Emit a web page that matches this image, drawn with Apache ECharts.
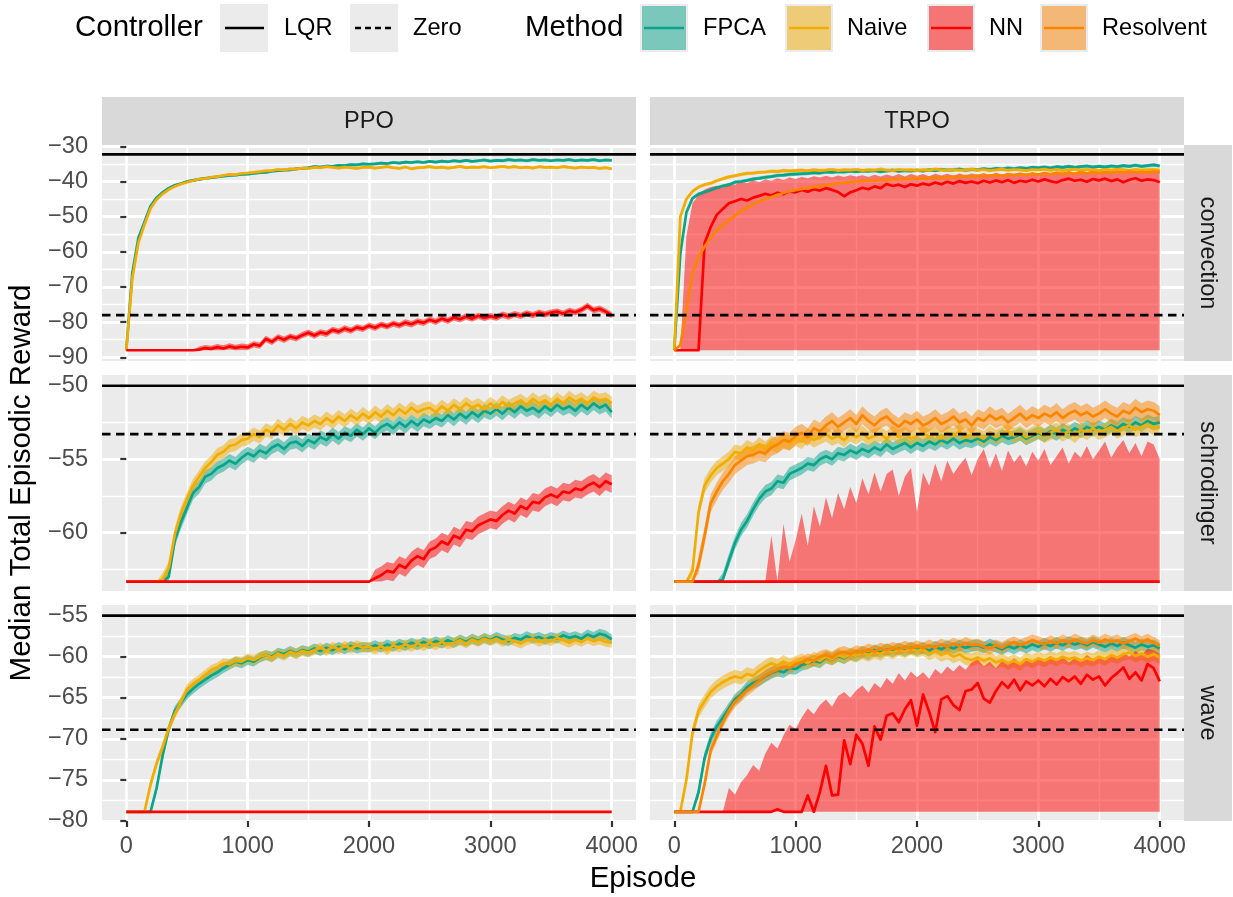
<!DOCTYPE html>
<html>
<head>
<meta charset="utf-8">
<title>Median Total Episodic Reward</title>
<script src="https://cdn.jsdelivr.net/npm/echarts@6.0.0/dist/echarts.min.js"></script>
<style>
  html, body { margin: 0; padding: 0; background: #fff; }
  #chart { width: 1233px; height: 897px; }
</style>
</head>
<body>
<div id="chart"></div>
<script>
// episodes shared by every curve
const episodes = [
  0, 50, 100, 150, 200, 250, 300, 350, 400, 450,
  500, 550, 600, 650, 700, 750, 800, 850, 900, 950,
  1000, 1050, 1100, 1150, 1200, 1250, 1300, 1350, 1400, 1450,
  1500, 1550, 1600, 1650, 1700, 1750, 1800, 1850, 1900, 1950,
  2000, 2050, 2100, 2150, 2200, 2250, 2300, 2350, 2400, 2450,
  2500, 2550, 2600, 2650, 2700, 2750, 2800, 2850, 2900, 2950,
  3000, 3050, 3100, 3150, 3200, 3250, 3300, 3350, 3400, 3450,
  3500, 3550, 3600, 3650, 3700, 3750, 3800, 3850, 3900, 3950,
  4000
];

const xTicks = [0, 1000, 2000, 3000, 4000];
const yTicksConvection = [-90, -80, -70, -60, -50, -40, -30];
const yTicksSchrodinger = [-60, -55, -50];
const yTicksWave = [-80, -75, -70, -65, -60, -55];

const algorithms = ['PPO', 'TRPO'];
const environments = ['convection', 'schrodinger', 'wave'];

// controller reference levels per environment
const lqrValues = [-32.3, -50.0, -55.0];
const zeroValues = [-78.0, -53.3, -68.9];
// reward of the untrained start per environment
const convFloor = -88.0;
const schFloor = -63.33;
const waveFloor = -78.9;

// ---- convection ----
const ppoConvFpca = [
  -88.0, -66.0, -56.0, -51.5, -47.0, -44.6, -43.1, -41.9, -41.1, -40.6,
  -40.0, -39.7, -39.4, -39.1, -38.9, -38.7, -38.5, -38.3, -38.2, -38.0,
  -37.9, -37.7, -37.5, -37.4, -37.1, -36.9, -36.8, -36.7, -36.4, -36.3,
  -36.1, -35.8, -35.9, -35.6, -35.7, -35.4, -35.5, -35.2, -35.3, -35.0,
  -35.1, -35.0, -34.8, -34.9, -34.6, -34.8, -34.5, -34.6, -34.4, -34.6,
  -34.3, -34.5, -34.2, -34.4, -34.1, -34.3, -34.0, -34.3, -34.1, -33.9,
  -34.2, -34.0, -34.1, -33.8, -34.0, -33.9, -34.1, -33.8, -34.0, -33.9,
  -34.1, -33.9, -34.0, -33.8, -34.1, -33.9, -34.0, -33.8, -34.1, -33.9,
  -34.0
];
const ppoConvNaive = [
  -88.0, -67.5, -57.4, -52.3, -47.7, -45.1, -43.5, -42.3, -41.4, -40.7,
  -40.2, -39.8, -39.3, -39.2, -38.8, -38.6, -38.3, -38.0, -38.1, -37.7,
  -37.6, -37.4, -37.2, -37.0, -36.9, -36.6, -36.7, -36.4, -36.5, -36.2,
  -36.3, -36.0, -36.1, -35.8, -36.0, -36.2, -35.9, -36.1, -36.3, -36.0,
  -35.9, -36.2, -36.0, -35.8, -36.1, -36.3, -35.9, -36.4, -36.1, -36.0,
  -35.8, -36.1, -35.9, -36.2, -36.0, -35.7, -36.1, -35.9, -36.0, -35.8,
  -36.1, -35.9, -35.7, -36.0, -35.8, -36.1, -35.9, -36.2, -35.8, -36.0,
  -35.9, -36.1, -35.8, -36.0, -36.2, -35.9, -36.1, -36.0, -36.3, -36.1,
  -36.4
];
const ppoConvNn = [
  -88.0, -88.0, -88.0, -88.0, -88.0, -88.0, -88.0, -88.0, -88.0, -88.0,
  -88.0, -88.0, -87.8, -87.4, -87.6, -87.1, -87.5, -86.9, -87.3, -87.0,
  -87.2, -86.3, -86.7, -84.8, -85.6, -84.3, -85.0, -84.1, -84.6, -83.7,
  -83.0, -83.8, -82.9, -83.3, -82.2, -82.7, -81.8, -82.4, -81.5, -81.9,
  -81.0, -81.6, -80.7, -81.2, -80.4, -80.9, -80.1, -80.6, -79.8, -80.2,
  -79.3, -79.9, -79.0, -79.6, -78.7, -79.2, -78.4, -79.0, -78.2, -78.8,
  -78.3, -78.7, -77.9, -78.4, -77.7, -78.2, -77.5, -78.0, -77.3, -77.8,
  -77.3, -77.0, -77.6, -76.8, -77.2, -76.5, -75.4, -76.6, -76.2, -77.0,
  -78.0
];
const trpoConvFpca = [
  -88.0, -60.5, -48.8, -44.8, -43.6, -43.0, -42.4, -41.8, -41.3, -40.9,
  -40.2, -40.0, -39.7, -39.3, -39.1, -38.8, -38.6, -38.3, -38.2, -38.0,
  -37.9, -37.8, -37.7, -37.5, -37.6, -37.3, -37.4, -37.2, -37.3, -37.1,
  -37.2, -37.0, -37.1, -36.9, -37.2, -37.0, -36.8, -37.1, -36.9, -37.0,
  -36.8, -37.0, -36.7, -36.9, -36.6, -36.8, -36.7, -36.5, -36.8, -36.6,
  -36.7, -36.4, -36.6, -36.3, -36.5, -36.2, -36.4, -36.1, -36.3, -36.0,
  -36.1, -35.9, -36.2, -35.8, -36.0, -35.7, -36.0, -35.8, -35.6, -35.9,
  -35.7, -35.9, -35.6, -35.8, -35.5, -35.7, -35.4, -35.7, -35.5, -35.3,
  -35.6
];
const trpoConvNaive = [
  -88.0, -50.0, -45.0, -42.8, -41.6, -40.9, -40.5, -39.8, -39.2, -38.7,
  -38.4, -38.0, -37.7, -37.6, -37.4, -37.3, -37.1, -37.2, -36.9, -37.0,
  -36.9, -36.8, -37.0, -36.7, -36.9, -36.8, -36.6, -36.9, -36.7, -36.8,
  -36.6, -36.9, -36.7, -36.8, -36.5, -36.8, -36.9, -36.6, -36.8, -36.7,
  -36.9, -36.7, -36.8, -36.5, -36.7, -36.9, -36.6, -36.8, -36.7, -36.5,
  -36.8, -36.6, -36.9, -36.7, -36.5, -36.8, -36.6, -36.7, -36.9, -36.6,
  -36.7, -36.5, -36.8, -36.6, -36.9, -36.7, -36.5, -36.8, -36.6, -36.7,
  -36.9, -36.6, -36.8, -36.5, -36.7, -36.9, -36.6, -36.8, -36.7, -36.6,
  -36.8
];
const trpoConvNn = [
  -88.0, -88.0, -88.0, -88.0, -88.0, -57.5, -53.0, -49.5, -47.8, -46.2,
  -45.6, -45.0, -45.4, -44.6, -44.1, -43.5, -44.0, -43.2, -43.6, -42.8,
  -43.1, -42.4, -42.9, -42.2, -42.6, -41.9, -42.4, -43.0, -44.2, -43.1,
  -42.5, -41.8, -42.2, -41.4, -41.9, -40.7, -41.3, -40.9, -41.6, -40.8,
  -41.2, -40.6, -41.0, -40.3, -40.8, -40.1, -40.6, -39.9, -40.4, -40.0,
  -40.5, -39.8, -40.3, -39.7, -40.2, -39.6, -40.4, -39.8, -40.1, -39.5,
  -40.0, -39.4, -39.9, -40.3, -39.6, -39.2, -39.8, -39.5, -40.1, -39.3,
  -39.7, -39.2, -39.9, -39.4, -40.2, -39.5, -39.1, -39.8, -39.4, -39.6,
  -40.2
];
const trpoConvNnHi = [
  -88.0, -88.0, -55.5, -46.2, -43.8, -42.3, -41.6, -41.2, -41.8, -40.6,
  -40.9, -40.1, -40.5, -39.6, -40.2, -39.4, -39.8, -39.1, -39.6, -38.9,
  -39.3, -38.7, -39.1, -38.5, -38.9, -38.4, -38.9, -38.3, -38.7, -38.2,
  -38.6, -38.2, -38.7, -38.1, -38.6, -38.0, -38.5, -37.9, -38.6, -37.9,
  -38.4, -37.9, -38.5, -37.8, -38.3, -37.8, -38.4, -37.7, -38.2, -37.7,
  -38.1, -37.6, -38.2, -37.5, -38.0, -37.5, -37.9, -37.4, -37.9, -37.3,
  -37.8, -37.2, -37.7, -37.1, -37.6, -37.0, -37.5, -36.9, -37.4, -36.8,
  -37.3, -36.7, -37.2, -36.8, -37.1, -36.6, -37.0, -36.7, -37.1, -36.8,
  -37.2
];
const trpoConvRes = [
  -88.0, -86.5, -76.5, -66.0, -61.5, -58.5, -56.0, -54.0, -52.4, -51.0,
  -49.6, -48.5, -47.4, -46.5, -45.6, -45.0, -44.4, -43.8, -43.3, -42.8,
  -42.5, -42.1, -41.8, -41.6, -41.3, -41.0, -40.9, -40.5, -40.4, -40.2,
  -40.0, -39.9, -39.7, -39.8, -39.5, -39.6, -39.3, -39.4, -39.2, -39.3,
  -39.1, -39.2, -38.9, -39.0, -38.8, -38.9, -38.6, -38.7, -38.5, -38.6,
  -38.4, -38.5, -38.3, -38.2, -38.4, -38.1, -38.2, -38.0, -38.1, -37.9,
  -38.0, -37.8, -37.9, -37.7, -37.8, -37.6, -37.8, -37.5, -37.7, -37.5,
  -37.6, -37.4, -37.6, -37.3, -37.5, -37.2, -37.4, -37.3, -37.5, -37.2,
  -37.3
];

// ---- schrodinger ----
const ppoSchFpca = [
  -63.33, -63.33, -63.33, -63.33, -63.33, -63.33, -63.33, -63.0, -60.5, -59.3,
  -58.3, -57.3, -56.9, -56.2, -56.0, -55.6, -55.4, -55.1, -55.3, -54.9,
  -54.6, -54.8, -54.4, -54.6, -54.2, -54.0, -54.3, -53.9, -53.8, -54.1,
  -53.7, -53.9, -53.5, -53.7, -53.3, -53.6, -53.2, -53.4, -53.0, -53.3,
  -52.9, -53.2, -52.8, -52.6, -52.9, -52.5, -52.8, -52.4, -52.7, -52.3,
  -52.5, -52.2, -52.4, -52.0, -52.3, -51.9, -52.2, -51.8, -52.1, -51.7,
  -51.9, -51.6, -51.9, -51.5, -51.8, -51.4, -51.7, -51.5, -51.8, -51.4,
  -51.7, -51.3, -51.6, -51.4, -51.7, -51.3, -51.6, -51.2, -51.5, -51.3,
  -51.8
];
const ppoSchNaive = [
  -63.33, -63.33, -63.33, -63.33, -63.33, -63.33, -63.2, -62.4, -60.1, -58.7,
  -57.7, -56.8, -56.2, -55.6, -55.2, -54.7, -54.5, -54.1, -54.0, -53.7,
  -53.6, -53.3, -53.5, -53.0, -53.2, -52.7, -53.0, -52.6, -52.9, -52.5,
  -52.7, -52.4, -52.6, -52.2, -52.5, -52.1, -52.4, -52.0, -52.3, -51.9,
  -52.2, -51.8, -52.1, -51.7, -52.0, -51.6, -51.9, -51.5, -51.8, -51.6,
  -51.5, -51.8, -51.4, -51.7, -51.3, -51.6, -51.2, -51.5, -51.3, -51.6,
  -51.2, -51.5, -51.1, -51.4, -51.2, -51.0, -51.3, -50.9, -51.2, -51.0,
  -51.3, -50.9, -51.2, -50.8, -51.1, -50.9, -51.2, -50.8, -51.0, -50.9,
  -51.2
];
const ppoSchNn = [
  -63.33, -63.33, -63.33, -63.33, -63.33, -63.33, -63.33, -63.33, -63.33, -63.33,
  -63.33, -63.33, -63.33, -63.33, -63.33, -63.33, -63.33, -63.33, -63.33, -63.33,
  -63.33, -63.33, -63.33, -63.33, -63.33, -63.33, -63.33, -63.33, -63.33, -63.33,
  -63.33, -63.33, -63.33, -63.33, -63.33, -63.33, -63.33, -63.33, -63.33, -63.33,
  -63.33, -63.1, -62.9, -62.6, -62.7, -62.2, -62.4, -61.9, -61.6, -61.8,
  -61.2, -61.0, -60.6, -60.8, -60.2, -60.4, -59.8, -59.9, -59.5, -59.3,
  -59.1, -59.2, -58.8, -58.5, -58.7, -58.2, -58.4, -57.9, -58.0, -57.6,
  -57.4, -57.6, -57.2, -57.3, -57.0, -57.1, -56.8, -56.6, -56.9, -56.5,
  -56.7
];
const trpoSchFpca = [
  -63.33, -63.33, -63.33, -63.33, -63.33, -63.33, -63.33, -63.33, -63.2, -61.9,
  -60.7, -59.8, -59.2, -58.4, -57.7, -57.2, -57.0, -56.5, -56.6, -56.0,
  -55.8, -55.6, -55.3, -55.4, -55.0, -54.8, -55.0, -54.6, -54.7, -54.4,
  -54.6, -54.3, -54.5, -54.2, -54.4, -54.0, -54.3, -54.1, -53.9, -54.2,
  -53.9, -54.1, -53.8, -54.0, -53.7, -53.9, -53.6, -53.9, -53.7, -53.8,
  -53.6, -53.8, -53.5, -53.7, -53.4, -53.6, -53.5, -53.3, -53.6, -53.4,
  -53.2, -53.4, -53.1, -53.3, -53.0, -53.2, -52.9, -53.1, -52.8, -53.0,
  -52.8, -53.0, -52.7, -52.9, -52.6, -52.8, -52.5, -52.7, -52.4, -52.6,
  -52.5
];
const trpoSchNaive = [
  -63.33, -63.33, -63.33, -62.6, -58.6, -56.8, -56.1, -55.6, -55.3, -55.0,
  -54.5, -54.6, -54.2, -54.4, -54.0, -54.3, -53.9, -54.1, -53.7, -53.9,
  -53.6, -53.8, -53.4, -53.7, -53.5, -53.3, -53.6, -53.4, -53.7, -53.3,
  -53.5, -53.2, -53.6, -53.4, -53.3, -53.6, -53.2, -53.5, -53.3, -53.6,
  -53.4, -53.2, -53.5, -53.3, -53.6, -53.2, -53.4, -53.1, -53.5, -53.3,
  -53.4, -53.6, -53.2, -53.5, -53.3, -53.1, -53.4, -53.2, -53.5, -53.3,
  -53.1, -53.4, -53.2, -53.0, -53.3, -53.1, -53.4, -53.0, -53.2, -52.9,
  -53.2, -53.0, -52.8, -53.1, -52.9, -52.7, -53.0, -52.8, -52.6, -52.9,
  -52.8
];
const trpoSchNn = [
  -63.33, -63.33, -63.33, -63.33, -63.33, -63.33, -63.33, -63.33, -63.33, -63.33,
  -63.33, -63.33, -63.33, -63.33, -63.33, -63.33, -63.33, -63.33, -63.33, -63.33,
  -63.33, -63.33, -63.33, -63.33, -63.33, -63.33, -63.33, -63.33, -63.33, -63.33,
  -63.33, -63.33, -63.33, -63.33, -63.33, -63.33, -63.33, -63.33, -63.33, -63.33,
  -63.33, -63.33, -63.33, -63.33, -63.33, -63.33, -63.33, -63.33, -63.33, -63.33,
  -63.33, -63.33, -63.33, -63.33, -63.33, -63.33, -63.33, -63.33, -63.33, -63.33,
  -63.33, -63.33, -63.33, -63.33, -63.33, -63.33, -63.33, -63.33, -63.33, -63.33,
  -63.33, -63.33, -63.33, -63.33, -63.33, -63.33, -63.33, -63.33, -63.33, -63.33,
  -63.33
];
const trpoSchNnHi = [
  -63.33, -63.33, -63.33, -63.33, -63.33, -63.33, -63.33, -63.33, -63.33, -63.33,
  -63.33, -63.33, -63.33, -63.33, -63.33, -63.33, -60.2, -63.33, -59.4, -62.0,
  -60.5, -58.7, -60.9, -58.2, -59.6, -57.6, -59.0, -57.3, -58.4, -56.9,
  -58.0, -56.3, -57.4, -55.9, -57.2, -56.0, -55.7, -57.5, -56.2, -55.6,
  -58.6, -55.9, -56.8, -55.3, -56.5, -55.1, -56.0, -55.4, -54.9, -56.1,
  -55.0, -54.3, -55.6, -54.6, -55.8, -54.4, -55.2, -54.7, -55.5, -54.5,
  -55.1, -54.3, -55.4, -54.8, -54.2, -55.3, -54.5, -54.9, -54.1, -55.0,
  -54.4, -53.8, -54.9, -54.2, -53.7, -54.6, -53.9, -54.8, -53.8, -54.0,
  -55.0
];
const trpoSchRes = [
  -63.33, -63.33, -63.33, -63.33, -62.2, -60.2, -58.0, -57.2, -56.5, -56.0,
  -55.4, -55.1, -54.8, -54.7, -54.5, -54.6, -54.2, -54.0, -53.7, -53.8,
  -53.4, -53.2, -53.5, -52.9, -53.1, -52.7, -52.4, -52.8, -52.5, -52.2,
  -52.6, -52.0, -52.4, -52.7, -52.3, -52.1, -52.5, -52.8, -52.4, -52.6,
  -52.3, -52.7, -52.5, -52.2, -52.6, -52.4, -52.1, -52.5, -52.3, -52.7,
  -52.2, -52.4, -52.0, -52.3, -52.1, -52.5, -52.2, -51.9, -52.3, -52.0,
  -52.2, -51.9, -52.1, -51.8, -52.2, -51.9, -51.7, -52.0, -51.8, -52.1,
  -51.9, -51.6, -51.9, -52.1, -51.7, -51.9, -51.5, -51.8, -51.6, -51.7,
  -52.0
];

// ---- wave ----
const ppoWaveFpca = [
  -78.9, -78.9, -78.9, -78.9, -78.9, -76.0, -72.0, -68.8, -66.6, -65.6,
  -64.6, -63.9, -63.3, -62.8, -62.3, -61.9, -61.4, -61.0, -60.6, -60.8,
  -60.4, -60.6, -60.1, -59.8, -60.0, -59.5, -59.7, -59.3, -59.6, -59.2,
  -59.4, -59.0, -59.3, -58.9, -59.2, -58.8, -59.1, -58.7, -59.0, -58.8,
  -58.9, -58.6, -58.9, -58.5, -58.8, -58.4, -58.7, -58.3, -58.6, -58.2,
  -58.5, -58.1, -58.4, -58.0, -58.3, -57.9, -58.2, -57.8, -58.1, -57.7,
  -58.0, -57.6, -57.9, -58.1, -57.7, -57.9, -57.5, -57.8, -57.6, -57.9,
  -57.6, -57.8, -57.4, -57.7, -57.5, -57.8, -57.3, -57.6, -57.2, -57.4,
  -57.9
];
const ppoWaveNaive = [
  -78.9, -78.9, -78.9, -78.9, -75.6, -73.0, -71.0, -68.7, -67.0, -65.5,
  -64.0, -63.3, -62.8, -62.2, -61.6, -61.3, -60.8, -60.9, -60.5, -60.6,
  -60.2, -60.4, -60.0, -59.8, -60.1, -59.6, -59.9, -59.4, -59.7, -59.3,
  -59.5, -59.2, -58.9, -59.3, -58.8, -59.1, -58.7, -59.0, -58.6, -58.9,
  -58.8, -59.1, -58.7, -59.2, -58.6, -58.9, -58.5, -58.8, -58.4, -58.7,
  -58.3, -58.6, -58.2, -58.5, -58.3, -58.0, -58.4, -57.9, -58.2, -57.8,
  -58.1, -57.8, -58.2, -57.9, -58.1, -58.4, -58.0, -57.8, -58.2, -57.9,
  -58.1, -57.7, -58.0, -58.3, -57.9, -58.2, -57.8, -58.1, -57.9, -58.2,
  -58.3
];
const ppoWaveNn = [
  -78.9, -78.9, -78.9, -78.9, -78.9, -78.9, -78.9, -78.9, -78.9, -78.9,
  -78.9, -78.9, -78.9, -78.9, -78.9, -78.9, -78.9, -78.9, -78.9, -78.9,
  -78.9, -78.9, -78.9, -78.9, -78.9, -78.9, -78.9, -78.9, -78.9, -78.9,
  -78.9, -78.9, -78.9, -78.9, -78.9, -78.9, -78.9, -78.9, -78.9, -78.9,
  -78.9, -78.9, -78.9, -78.9, -78.9, -78.9, -78.9, -78.9, -78.9, -78.9,
  -78.9, -78.9, -78.9, -78.9, -78.9, -78.9, -78.9, -78.9, -78.9, -78.9,
  -78.9, -78.9, -78.9, -78.9, -78.9, -78.9, -78.9, -78.9, -78.9, -78.9,
  -78.9, -78.9, -78.9, -78.9, -78.9, -78.9, -78.9, -78.9, -78.9, -78.9,
  -78.9
];
const trpoWaveFpca = [
  -78.9, -78.9, -78.9, -78.9, -76.5, -72.3, -70.0, -68.5, -67.4, -66.3,
  -65.2, -64.6, -63.7, -63.2, -62.9, -62.4, -62.0, -61.7, -61.9, -61.4,
  -61.5, -61.0, -60.8, -60.5, -60.7, -60.1, -60.3, -59.9, -60.2, -59.7,
  -59.9, -59.4, -59.7, -59.2, -59.5, -59.1, -59.4, -59.0, -59.3, -58.9,
  -59.2, -58.9, -59.3, -58.8, -59.1, -58.7, -59.0, -58.6, -58.9, -58.7,
  -58.6, -58.9, -58.5, -58.8, -59.1, -58.7, -59.0, -58.6, -58.9, -58.5,
  -58.8, -58.4, -58.7, -58.3, -58.6, -58.2, -58.5, -58.3, -58.6, -58.2,
  -58.5, -58.8, -58.4, -58.7, -58.3, -58.6, -58.9, -58.5, -58.8, -58.6,
  -59.0
];
const trpoWaveNaive = [
  -78.9, -78.9, -75.0, -69.3, -66.6, -65.4, -64.3, -63.6, -63.1, -62.7,
  -62.4, -62.6, -62.1, -62.3, -61.7, -61.2, -60.8, -61.1, -60.6, -61.0,
  -60.7, -60.4, -60.8, -60.2, -60.5, -60.0, -60.3, -59.8, -60.1, -59.7,
  -59.9, -59.5, -59.8, -59.4, -59.7, -59.2, -59.5, -59.1, -59.4, -59.0,
  -59.3, -59.1, -59.6, -59.3, -59.8, -59.5, -60.0, -59.7, -60.2, -60.4,
  -60.1, -60.5, -60.2, -60.7, -60.4, -60.8, -60.5, -60.9, -60.3, -60.6,
  -60.2, -60.5, -60.1, -60.4, -60.0, -60.3, -60.1, -60.5, -60.2, -60.4,
  -60.0, -60.3, -59.8, -60.1, -59.7, -59.5, -59.9, -59.6, -60.0, -59.7,
  -60.1
];
const trpoWaveNn = [
  -78.9, -78.9, -78.9, -78.9, -78.9, -78.9, -78.9, -78.9, -78.9, -78.9,
  -78.9, -78.9, -78.9, -78.9, -78.9, -78.9, -78.9, -78.6, -78.9, -78.9,
  -78.9, -78.9, -76.9, -78.9, -76.5, -73.3, -76.9, -76.8, -70.2, -73.1,
  -69.5, -70.6, -73.3, -68.5, -70.1, -67.2, -66.9, -68.0, -66.4, -65.3,
  -68.4, -64.6, -66.7, -69.2, -65.2, -64.8, -65.9, -66.5, -64.2, -64.0,
  -63.2, -65.1, -65.6, -64.2, -63.1, -63.8, -62.8, -64.1, -63.0, -63.5,
  -62.9, -63.6, -62.7, -63.4, -62.5, -63.0, -62.4, -63.3, -62.2, -62.8,
  -62.4, -63.5, -62.6, -62.0, -61.3, -62.7, -61.9, -62.9, -60.9, -61.4,
  -63.0
];
const trpoWaveNnHi = [
  -78.9, -78.9, -78.9, -78.9, -78.9, -78.9, -78.9, -78.9, -78.9, -76.0,
  -76.8, -75.3, -74.4, -73.2, -73.9, -71.8, -70.5, -71.2, -69.6, -68.3,
  -68.8, -67.4, -66.3, -67.0, -65.9, -65.2, -66.1, -64.8, -64.3, -65.0,
  -64.1, -63.5, -64.4, -63.2, -63.8, -62.6, -63.3, -62.0, -62.9, -61.8,
  -62.5, -61.9, -62.7, -61.5, -62.1, -61.2, -61.8, -61.0, -61.6, -60.7,
  -60.3, -61.2, -60.6, -61.4, -60.5, -61.0, -60.2, -60.9, -60.4, -60.8,
  -60.1, -60.6, -59.9, -60.5, -60.0, -60.7, -60.2, -60.5, -59.8, -60.3,
  -59.9, -60.4, -59.7, -60.1, -59.5, -60.0, -59.3, -59.8, -59.0, -59.2,
  -59.6
];
const trpoWaveRes = [
  -78.9, -78.9, -78.9, -78.9, -78.9, -75.5, -71.4, -69.7, -68.0, -66.6,
  -65.5, -64.8, -64.1, -63.5, -62.9, -62.3, -61.9, -61.6, -61.2, -61.4,
  -60.9, -60.7, -60.3, -60.5, -60.0, -59.8, -60.1, -59.6, -59.4, -59.7,
  -59.3, -59.5, -59.1, -59.4, -59.0, -59.2, -58.9, -59.1, -58.8, -59.0,
  -58.7, -59.0, -58.6, -58.9, -58.5, -58.8, -58.4, -58.7, -58.3, -58.6,
  -58.5, -58.8, -59.0, -58.6, -58.9, -58.5, -58.2, -58.6, -58.3, -58.0,
  -58.2, -58.5, -58.1, -58.4, -58.0, -58.3, -57.9, -58.2, -58.4, -58.0,
  -58.3, -57.9, -58.2, -58.0, -58.4, -58.1, -57.8, -58.2, -57.9, -58.3,
  -58.7
];

const methodColors = { FPCA: '#09A58B', Naive: '#F2AD03', NN: '#FF0000', Resolvent: '#FB8501' };
const bandColors = {
  FPCA: 'rgba(9,165,139,0.5)',
  Naive: 'rgba(242,173,3,0.5)',
  NN: 'rgba(255,0,0,0.5)',
  Resolvent: 'rgba(251,133,1,0.5)'
};

// [method, median, ribbon half width or explicit upper edge]
const panels = [
  { row: 0, col: 0, floor: convFloor, curves: [
    ['FPCA', ppoConvFpca, 0.4], ['Naive', ppoConvNaive, 0.4], ['NN', ppoConvNn, 0.9]] },
  { row: 0, col: 1, floor: convFloor, curves: [
    ['FPCA', trpoConvFpca, 0.5], ['Naive', trpoConvNaive, 0.5], ['NN', trpoConvNn, trpoConvNnHi], ['Resolvent', trpoConvRes, 0.4]] },
  { row: 1, col: 0, floor: schFloor, curves: [
    ['FPCA', ppoSchFpca, 0.45], ['Naive', ppoSchNaive, 0.45], ['NN', ppoSchNn, 0.6]] },
  { row: 1, col: 1, floor: schFloor, curves: [
    ['FPCA', trpoSchFpca, 0.45], ['Naive', trpoSchNaive, 0.5], ['NN', trpoSchNn, trpoSchNnHi], ['Resolvent', trpoSchRes, 0.6]] },
  { row: 2, col: 0, floor: waveFloor, curves: [
    ['FPCA', ppoWaveFpca, 0.6], ['Naive', ppoWaveNaive, 0.6], ['NN', ppoWaveNn, 0.3]] },
  { row: 2, col: 1, floor: waveFloor, curves: [
    ['FPCA', trpoWaveFpca, 0.7], ['Naive', trpoWaveNaive, 0.8], ['NN', trpoWaveNn, trpoWaveNnHi], ['Resolvent', trpoWaveRes, 0.7]] }
];

// layout
const colLeft = [102, 650];
const rowTop = [145, 375, 605];
const panelW = 534, panelH = 216, stripSize = 48;
const xMin = -200, xMax = 4200;
const yRanges = [[-91.05, -29.63], [-63.97, -49.27], [-80.02, -53.70]];
const ySplit = [5, 3, 5];
const yTicks = [yTicksConvection, yTicksSchrodinger, yTicksWave];
const font = 'Liberation Sans, Arial, Helvetica, sans-serif';
const tickFont = 23.6, titleFont = 29.5;

const minus = v => (v < 0 ? '\u2212' + (-v) : String(v));

const grids = [], xAxes = [], yAxes = [], series = [];

panels.forEach(p => {
  const g = grids.length;
  grids.push({
    left: colLeft[p.col], top: rowTop[p.row], width: panelW, height: panelH,
    show: true, backgroundColor: '#EBEBEB', borderWidth: 0, outerBoundsMode: 'none'
  });
  const bottomRow = p.row === 2, leftCol = p.col === 0;
  xAxes.push({
    type: 'value', gridIndex: g, min: xMin, max: xMax, splitNumber: 5,
    axisLine: { show: false },
    axisTick: { show: bottomRow, length: 6, customValues: xTicks, lineStyle: { color: '#333333', width: 2.2 } },
    axisLabel: { show: bottomRow, customValues: xTicks, margin: 13, color: '#4D4D4D', fontSize: tickFont, fontFamily: font, formatter: v => String(v) },
    splitLine: { show: true, lineStyle: { color: '#FFFFFF', width: 2.8 } },
    minorTick: { show: false, splitNumber: 2 },
    minorSplitLine: { show: true, lineStyle: { color: '#FFFFFF', width: 1.4 } }
  });
  yAxes.push({
    type: 'value', gridIndex: g, min: yRanges[p.row][0], max: yRanges[p.row][1], splitNumber: ySplit[p.row],
    axisLine: { show: false },
    axisTick: { show: leftCol, length: 6, customValues: yTicks[p.row], lineStyle: { color: '#333333', width: 2.2 } },
    axisLabel: { show: leftCol, customValues: yTicks[p.row], margin: 14, color: '#4D4D4D', fontSize: tickFont, fontFamily: font, formatter: minus },
    splitLine: { show: true, lineStyle: { color: '#FFFFFF', width: 2.8 } },
    minorTick: { show: false, splitNumber: 2 },
    minorSplitLine: { show: true, lineStyle: { color: '#FFFFFF', width: 1.4 } }
  });

  // ribbons first, then medians, then controller levels
  p.curves.forEach(([name, med, spread]) => {
    const pts = med.map((v, i) => {
      if (Array.isArray(spread)) return [episodes[i], p.floor, spread[i]];
      const flat = Math.abs(v - p.floor) < 1e-6;
      return [episodes[i], flat ? v : Math.max(p.floor, v - spread), flat ? v : v + spread];
    });
    series.push({
      type: 'custom', name: name + ' band', xAxisIndex: g, yAxisIndex: g,
      data: pts, encode: { x: 0, y: [1, 2] }, silent: true, clip: true, z: 1,
      renderItem: (params, api) => {
        if (params.dataIndex !== 0) return null;
        const upper = pts.map(d => api.coord([d[0], d[2]]));
        const lower = pts.map(d => api.coord([d[0], d[1]])).reverse();
        return { type: 'polygon', shape: { points: upper.concat(lower) }, style: { fill: bandColors[name] } };
      }
    });
  });
  p.curves.forEach(([name, med]) => {
    series.push({
      type: 'line', name: name, xAxisIndex: g, yAxisIndex: g,
      data: med.map((v, i) => [episodes[i], v]),
      showSymbol: false, symbol: 'none', silent: true, clip: true, z: 2,
      lineStyle: { color: methodColors[name], width: 2.7, join: 'round' }
    });
  });
  [[lqrValues[p.row], 'solid'], [zeroValues[p.row], [8.5, 5.5]]].forEach(([v, dash]) => {
    series.push({
      type: 'line', xAxisIndex: g, yAxisIndex: g,
      data: [[xMin, v], [xMax, v]],
      showSymbol: false, symbol: 'none', silent: true, z: 3,
      lineStyle: { color: '#000000', width: 2.7, type: dash }
    });
  });
});

// facet strips, legend and axis titles
const graphics = [];
algorithms.forEach((t, c) => {
  graphics.push({ type: 'rect', silent: true, shape: { x: colLeft[c], y: rowTop[0] - stripSize, width: panelW, height: stripSize }, style: { fill: '#D9D9D9' } });
  graphics.push({ type: 'text', silent: true, x: colLeft[c] + panelW / 2, y: rowTop[0] - stripSize / 2,
    style: { text: t, fontSize: tickFont, fontFamily: font, fill: '#1A1A1A', textAlign: 'center', textVerticalAlign: 'middle' } });
});
environments.forEach((t, r) => {
  const sx = colLeft[1] + panelW;
  graphics.push({ type: 'rect', silent: true, shape: { x: sx, y: rowTop[r], width: stripSize, height: panelH }, style: { fill: '#D9D9D9' } });
  graphics.push({ type: 'text', silent: true, x: sx + stripSize / 2, y: rowTop[r] + panelH / 2, rotation: -Math.PI / 2,
    style: { text: t, fontSize: tickFont, fontFamily: font, fill: '#1A1A1A', textAlign: 'center', textVerticalAlign: 'middle' } });
});

const keyTop = 4, keySize = 48, legendMid = 28;
function label(text, x, size) {
  return { type: 'text', silent: true, x: x, y: legendMid,
    style: { text: text, fontSize: size, fontFamily: font, fill: '#000000', textAlign: 'left', textVerticalAlign: 'middle' } };
}
function keyBox(x) {
  return { type: 'rect', silent: true, shape: { x: x, y: keyTop, width: keySize, height: keySize }, style: { fill: '#EBEBEB' } };
}
graphics.push(label('Controller', 75, titleFont));
[['LQR', 220, 284, null], ['Zero', 350, 413, [6, 4]]].forEach(([name, kx, tx, dash]) => {
  graphics.push(keyBox(kx));
  graphics.push({ type: 'line', silent: true, shape: { x1: kx + 5, y1: legendMid, x2: kx + 44, y2: legendMid },
    style: { stroke: '#000000', lineWidth: 2.7, lineDash: dash } });
  graphics.push(label(name, tx, tickFont));
});
graphics.push(label('Method', 525, titleFont));
[['FPCA', 640, 703], ['Naive', 785, 847], ['NN', 927, 989], ['Resolvent', 1040, 1102]].forEach(([name, kx, tx]) => {
  graphics.push(keyBox(kx));
  graphics.push({ type: 'rect', silent: true, shape: { x: kx + 2, y: keyTop + 2, width: keySize - 4, height: keySize - 4 }, style: { fill: bandColors[name] } });
  graphics.push({ type: 'line', silent: true, shape: { x1: kx + 4, y1: legendMid, x2: kx + 44, y2: legendMid },
    style: { stroke: methodColors[name], lineWidth: 2.7 } });
  graphics.push(label(name, tx, tickFont));
});

graphics.push({ type: 'text', silent: true, x: (colLeft[0] + colLeft[1] + panelW) / 2, y: 879,
  style: { text: 'Episode', fontSize: titleFont, fontFamily: font, fill: '#000000', textAlign: 'center', textVerticalAlign: 'middle' } });
graphics.push({ type: 'text', silent: true, x: 22, y: rowTop[0] + (rowTop[2] + panelH - rowTop[0]) / 2, rotation: Math.PI / 2,
  style: { text: 'Median Total Episodic Reward', fontSize: titleFont, fontFamily: font, fill: '#000000', textAlign: 'center', textVerticalAlign: 'middle' } });

const chart = echarts.init(document.getElementById('chart'), null, { renderer: 'canvas' });
chart.setOption({
  animation: false,
  backgroundColor: '#FFFFFF',
  textStyle: { fontFamily: font },
  grid: grids,
  xAxis: xAxes,
  yAxis: yAxes,
  series: series,
  graphic: graphics
});
</script>
</body>
</html>
